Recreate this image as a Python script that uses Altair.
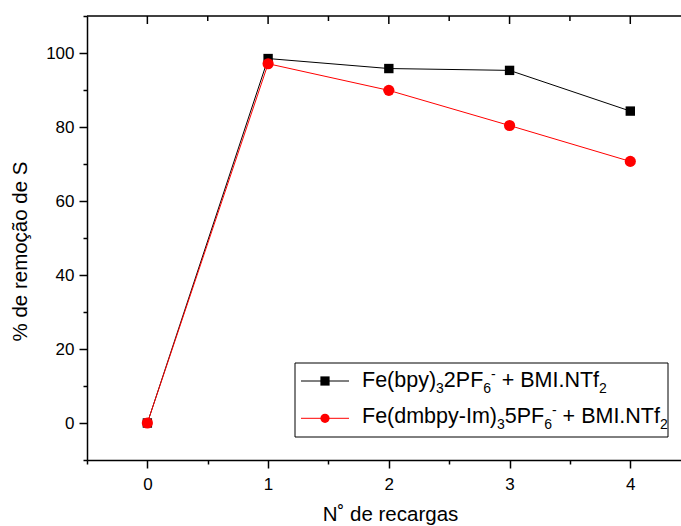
import altair as alt
import pandas as pd

# Number of recharges and sulfur removal (%) for the two catalytic systems
recargas = [0, 1, 2, 3, 4]
bpy_removal = [0, 98.5, 95.8, 95.3, 84.3]
dmbpy_removal = [0, 97.1, 89.9, 80.4, 70.7]

series_names = ["bpy", "dmbpy"]
series_colors = ["#000000", "#ff0000"]
series_shapes = ["square", "circle"]

x_tick_values = [-0.5, 0, 0.5, 1, 1.5, 2, 2.5, 3, 3.5, 4]
x_major = [0, 1, 2, 3, 4]
x_minor = [0.5, 1.5, 2.5, 3.5]
y_tick_values = [-10, 0, 10, 20, 30, 40, 50, 60, 70, 80, 90, 100, 110]

# Legend entries, split into normal / subscript / superscript runs
legend_rows = [
    [("Fe(bpy)", "n"), ("3", "sub"), ("2PF", "n"), ("6", "sub"), ("-", "sup"),
     (" + BMI.NTf", "n"), ("2", "sub")],
    [("Fe(dmbpy-Im)", "n"), ("3", "sub"), ("5PF", "n"), ("6", "sub"), ("-", "sup"),
     (" + BMI.NTf", "n"), ("2", "sub")],
]

FONT = "Liberation Sans"
W, H = 594, 444

# Advance widths (1/1000 em) of the sans-serif face, for laying out the runs
ADV = {"F": 611, "e": 556, "(": 333, ")": 333, "b": 556, "p": 556, "y": 500,
       "2": 556, "3": 556, "5": 556, "6": 556, "P": 667, " ": 278, "+": 584,
       "B": 667, "M": 833, "I": 278, ".": 278, "N": 722, "T": 611, "f": 278,
       "d": 556, "m": 833, "-": 333, "l": 222}


def run_width(s, size):
    return sum(ADV.get(c, 556) for c in s) * size / 1000.0


data = pd.DataFrame({
    "recarga": recargas * 2,
    "remocao": bpy_removal + dmbpy_removal,
    "serie": [series_names[0]] * len(recargas) + [series_names[1]] * len(recargas),
})

x_scale = alt.Scale(domain=[-0.5, 4.42], nice=False, zero=False)
y_scale = alt.Scale(domain=[-10, 110], nice=False, zero=False)

x_axis = alt.Axis(
    values=x_tick_values,
    format=".0f",
    labelExpr="datum.value % 1 === 0 ? datum.label : ''",
    tickSize={"condition": {"test": "datum.value % 1 === 0", "value": 8}, "value": 4},
    labelPadding=8,
    labelFlush=False,
    labelOverlap=False,
    titleX=303,
    titleY=60,
    titleBaseline="alphabetic",
    titleAlign="center",
)
y_axis = alt.Axis(
    values=y_tick_values,
    format=".0f",
    labelExpr="datum.value % 20 === 0 ? datum.label : ''",
    tickSize={"condition": {"test": "datum.value % 20 === 0", "value": 8}, "value": 4},
    labelPadding=5,
    labelOverlap=False,
    labelFlush=False,
    titleX=-67,
    titleY=235,
    titleAngle=-90,
    titleBaseline="middle",
    titleAlign="center",
)

X_TITLE = "N˚ de recargas"
Y_TITLE = "% de remoção de S"


def xenc(field):
    return alt.X(field, scale=x_scale, axis=x_axis, title=X_TITLE)


def yenc(field):
    return alt.Y(field, scale=y_scale, axis=y_axis, title=Y_TITLE)


layers = []

# Top frame line with inward ticks
layers.append(
    alt.Chart(pd.DataFrame({"k": [0]})).mark_rule(color="black", strokeWidth=1.5).encode(
        x=alt.value(0), x2=alt.value(W), y=alt.value(0)
    )
)
layers.append(
    alt.Chart(pd.DataFrame({"t": x_major})).mark_rule(color="black", strokeWidth=1.5).encode(
        x=xenc("t:Q"), y=alt.value(0), y2=alt.value(8)
    )
)
layers.append(
    alt.Chart(pd.DataFrame({"t": x_minor})).mark_rule(color="black", strokeWidth=1.5).encode(
        x=xenc("t:Q"), y=alt.value(0), y2=alt.value(5)
    )
)

# Data series: line then markers, black first, red on top
for name, color, shape, size in zip(series_names, series_colors, series_shapes, [88, 125]):
    sub = data[data["serie"] == name]
    base = alt.Chart(sub)
    layers.append(
        base.mark_line(color=color, strokeWidth=1).encode(
            x=xenc("recarga:Q"), y=yenc("remocao:Q")
        )
    )
    layers.append(
        base.mark_point(color=color, filled=True, opacity=1, shape=shape, size=size).encode(
            x=xenc("recarga:Q"), y=yenc("remocao:Q")
        )
    )

# Legend box
one = pd.DataFrame({"k": [0]})
layers.append(
    alt.Chart(one).mark_rect(fill="white", stroke="black", strokeWidth=1).encode(
        x=alt.value(208), x2=alt.value(581), y=alt.value(347), y2=alt.value(421)
    )
)

row_centers = [365, 402.3]
row_baselines = [370.7, 407.3]
for i, (color, shape) in enumerate(zip(series_colors, series_shapes)):
    layers.append(
        alt.Chart(one).mark_rule(color=color, strokeWidth=1).encode(
            x=alt.value(214), x2=alt.value(262), y=alt.value(row_centers[i])
        )
    )
    layers.append(
        alt.Chart(one).mark_point(color=color, filled=True, opacity=1, shape=shape, size=85).encode(
            x=alt.value(238), y=alt.value(row_centers[i])
        )
    )

runs = []
for i, row in enumerate(legend_rows):
    cx = 275.0
    for txt, kind in row:
        fs = 21.5 if kind == "n" else 14
        dy = {"n": 0, "sub": 6, "sup": -8}[kind]
        lead = len(txt) - len(txt.lstrip(" "))
        start = cx + run_width(txt[:lead], fs)
        runs.append({"txt": txt.strip(" "), "px": start, "py": row_baselines[i] + dy, "fs": fs})
        cx += run_width(txt, fs)
runs = pd.DataFrame(runs)

layers.append(
    alt.Chart(runs).mark_text(align="left", baseline="alphabetic", font=FONT, color="black").encode(
        x=alt.X("px:Q", scale=None),
        y=alt.Y("py:Q", scale=None),
        text="txt:N",
        size=alt.Size("fs:Q", scale=None),
    )
)

chart = (
    alt.layer(*layers)
    .properties(
        width=W,
        height=H,
        autosize=alt.AutoSizeParams(type="none"),
        padding={"left": 87, "top": 16, "right": 0, "bottom": 66},
        background="white",
    )
    .configure_view(stroke=None)
    .configure_axis(
        grid=False,
        domainColor="black",
        domainWidth=1.5,
        tickColor="black",
        tickWidth=1.5,
        labelColor="black",
        labelFont=FONT,
        labelFontSize=17,
        titleColor="black",
        titleFont=FONT,
        titleFontSize=20.5,
        titleFontWeight="normal",
    )
)

chart.save("out.html", embed_options={"renderer": "svg", "actions": False})
